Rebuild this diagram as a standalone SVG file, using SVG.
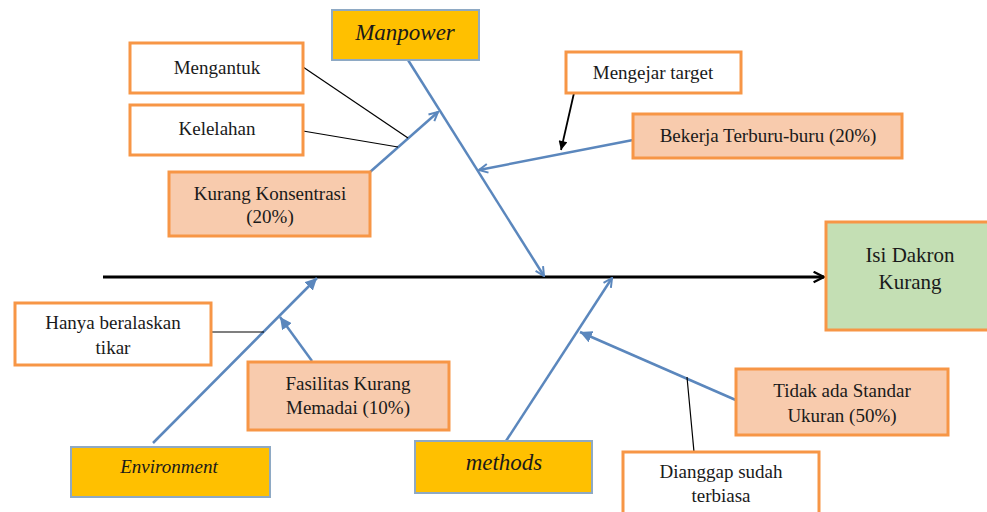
<svg xmlns="http://www.w3.org/2000/svg" width="987" height="512" viewBox="0 0 987 512">
  <style>
    .cat { fill: #FFC000; stroke: #8EA9C4; stroke-width: 2; }
    .cause { fill: #FFFFFF; stroke: #F79646; stroke-width: 3; }
    .main { fill: #F8CBAD; stroke: #F79646; stroke-width: 3; }
    .effect { fill: #C4DFB4; stroke: #F79646; stroke-width: 3; }
    .bone { fill: none; stroke: #5B87BD; stroke-width: 2.5; }
    .tie { fill: none; stroke: #000000; stroke-width: 1.2; }
    text { font-size: 19px; fill: #1a1a1a; text-anchor: middle; }
    .it { font-style: italic; }
  </style>
  <defs>
    <marker id="openBlue" viewBox="0 0 10 10" refX="9" refY="5" markerWidth="11" markerHeight="11" markerUnits="userSpaceOnUse" orient="auto">
      <path d="M1,1 L9,5 L1,9" fill="none" stroke="#5B87BD" stroke-width="1.8"/>
    </marker>
    <marker id="fillBlue" viewBox="0 0 10 10" refX="10" refY="5" markerWidth="12" markerHeight="12" markerUnits="userSpaceOnUse" orient="auto">
      <path d="M0,0 L10,5 L0,10 Z" fill="#5B87BD"/>
    </marker>
    <marker id="openBlack" viewBox="0 0 10 10" refX="9" refY="5" markerWidth="13" markerHeight="13" markerUnits="userSpaceOnUse" orient="auto">
      <path d="M1,1 L9,5 L1,9" fill="none" stroke="#000" stroke-width="1.8"/>
    </marker>
    <marker id="fillBlack" viewBox="0 0 10 10" refX="10" refY="5" markerWidth="11" markerHeight="9" markerUnits="userSpaceOnUse" orient="auto">
      <path d="M0,0 L10,5 L0,10 Z" fill="#000"/>
    </marker>
  </defs>

  <!-- connectors -->
  <g id="connectors">
    <line x1="103" y1="277" x2="824" y2="277" stroke="#000" stroke-width="3" marker-end="url(#openBlack)"/>
    <!-- Manpower bone -->
    <line class="bone" x1="408" y1="60" x2="544" y2="276" marker-end="url(#openBlue)"/>
    <line class="bone" x1="370" y1="172" x2="438" y2="112" marker-end="url(#openBlue)"/>
    <line class="bone" x1="633" y1="140" x2="479" y2="170" marker-end="url(#openBlue)"/>
    <line class="tie" x1="303" y1="67" x2="408" y2="138"/>
    <line class="tie" x1="303" y1="131" x2="398" y2="147"/>
    <line x1="574" y1="93" x2="561" y2="150" stroke="#000" stroke-width="1.8" marker-end="url(#fillBlack)"/>
    <!-- Environment bone -->
    <line class="bone" x1="153" y1="443" x2="317" y2="278" marker-end="url(#fillBlue)"/>
    <line class="bone" x1="312" y1="361" x2="280" y2="317" marker-end="url(#fillBlue)"/>
    <line class="tie" x1="211" y1="332" x2="264" y2="332"/>
    <!-- methods bone -->
    <line class="bone" x1="506" y1="441" x2="612" y2="278" marker-end="url(#openBlue)"/>
    <line class="bone" x1="738" y1="401" x2="580" y2="332" marker-end="url(#fillBlue)"/>
    <line class="tie" x1="687" y1="377" x2="694" y2="452"/>
  </g>

  <g font-family="'Liberation Serif', 'Times New Roman', 'DejaVu Serif', serif">
  <g id="manpower">
    <rect class="cat" x="332" y="10" width="147" height="50"/>
    <text class="it" x="405" y="40" style="font-size:23px">Manpower</text>
  </g>
  <g id="mengantuk">
    <rect class="cause" x="130" y="43" width="173" height="50"/>
    <text x="217" y="74">Mengantuk</text>
  </g>
  <g id="kelelahan">
    <rect class="cause" x="130" y="105" width="173" height="50"/>
    <text x="217" y="135">Kelelahan</text>
  </g>
  <g id="kurang-konsentrasi">
    <rect class="main" x="169" y="172" width="201" height="64"/>
    <text x="270" y="200">Kurang Konsentrasi</text>
    <text x="270" y="223">(20%)</text>
  </g>
  <g id="mengejar-target">
    <rect class="cause" x="566" y="52" width="175" height="41"/>
    <text x="653" y="79">Mengejar target</text>
  </g>
  <g id="bekerja-terburu-buru">
    <rect class="main" x="633" y="114" width="269" height="44"/>
    <text x="768" y="142">Bekerja Terburu-buru (20%)</text>
  </g>
  <g id="isi-dakron-kurang">
    <rect class="effect" x="826" y="222" width="170" height="108"/>
    <text x="910" y="262" style="font-size:21px">Isi Dakron</text>
    <text x="910" y="289" style="font-size:21px">Kurang</text>
  </g>
  <g id="hanya-beralaskan-tikar">
    <rect class="cause" x="15" y="303" width="196" height="62"/>
    <text x="113" y="329">Hanya beralaskan</text>
    <text x="113" y="354">tikar</text>
  </g>
  <g id="fasilitas-kurang-memadai">
    <rect class="main" x="248" y="362" width="201" height="68"/>
    <text x="348" y="390">Fasilitas Kurang</text>
    <text x="348" y="414">Memadai (10%)</text>
  </g>
  <g id="environment">
    <rect class="cat" x="71" y="447" width="199" height="50"/>
    <text class="it" x="169" y="473">Environment</text>
  </g>
  <g id="methods">
    <rect class="cat" x="415" y="441" width="177" height="52"/>
    <text class="it" x="504" y="470" style="font-size:23px">methods</text>
  </g>
  <g id="tidak-ada-standar-ukuran">
    <rect class="main" x="736" y="369" width="212" height="66"/>
    <text x="842" y="397">Tidak ada Standar</text>
    <text x="842" y="422">Ukuran (50%)</text>
  </g>
  <g id="dianggap-sudah-terbiasa">
    <rect class="cause" x="623" y="452" width="196" height="70"/>
    <text x="721" y="478">Dianggap sudah</text>
    <text x="721" y="502">terbiasa</text>
  </g>
  </g>
</svg>
